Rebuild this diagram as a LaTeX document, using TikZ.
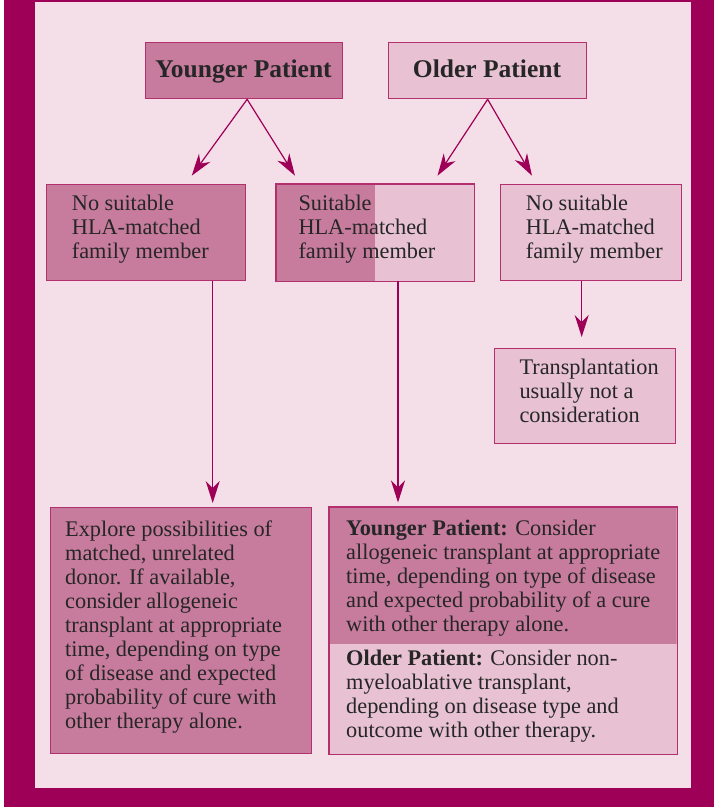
\documentclass[tikz,border=0pt]{standalone}
\usepackage{fontspec}
\setmainfont{Liberation Serif}
\usetikzlibrary{arrows.meta}
\definecolor{framec}{HTML}{9E0057}
\definecolor{bgc}{HTML}{F4DFE8}
\definecolor{dk}{HTML}{C77B9D}
\definecolor{lt}{HTML}{E8C2D2}
\definecolor{edgec}{HTML}{B3306F}
\definecolor{arrowc}{HTML}{9E0057}
\definecolor{ink}{HTML}{262626}
\begin{document}
\begin{tikzpicture}[x=1pt,y=-1pt,
  box/.style={draw=edgec, line width=1.3pt, rectangle, inner sep=0pt, anchor=north west},
  arr/.style={draw=arrowc, line width=1.2pt, -{Stealth[length=22pt,width=14pt,inset=7pt]}},
  body/.style={anchor=base west, inner sep=0pt, align=left, font=\fontsize{22.3}{24}\selectfont, text=ink},
  head/.style={anchor=base, inner sep=0pt, font=\fontsize{25.5}{28}\selectfont\bfseries, text=ink}]
\useasboundingbox (0,0) rectangle (714,807);
\fill[white] (0,0) rectangle (714,807);
\fill[framec] (4,0) rectangle (714,807);
\fill[bgc] (35,2) rectangle (691,788);
% top boxes
\node[box, fill=dk, minimum width=197pt, minimum height=56pt] (young) at (145,42) {};
\node[box, fill=lt, minimum width=198pt, minimum height=56pt] (older) at (388,42) {};
\node[head] (youngt) at (243.5,77.7) {Younger Patient};
\node[head] (oldert) at (487,77.7) {Older Patient};
% second row
\node[box, fill=dk, minimum width=199pt, minimum height=96pt] (b1) at (46,184) {};
\node[box, draw=none, fill=lt, minimum width=197pt, minimum height=96pt,
  path picture={\fill[dk] (path picture bounding box.north west) rectangle ([xshift=98pt]path picture bounding box.south west);}] (b2) at (276,184) {};
\draw[edgec, line width=1.3pt] (b2.north west) rectangle (b2.south east);
\node[box, fill=lt, minimum width=181pt, minimum height=96pt] (b3) at (499.5,184) {};
\node[body] (b1t) at (71.7,258.7) {No suitable\\HLA-matched\\family member};
\node[body] (b2t) at (298.3,258.7) {Suitable\\HLA-matched\\family member};
\node[body] (b3t) at (525.7,258.7) {No suitable\\HLA-matched\\family member};
% transplantation box
\node[box, fill=lt, minimum width=181pt, minimum height=95pt] (tr) at (494,348) {};
\node[body] (trt) at (519.3,422.3) {Transplantation\\usually not a\\consideration};
% bottom boxes
\node[box, fill=dk, minimum width=261pt, minimum height=246pt] (bl) at (49.5,507) {};
\node[body] (blt) at (65,728.7) {Explore possibilities of\\matched, unrelated\\donor. If available,\\consider allogeneic\\transplant at appropriate\\time, depending on type\\of disease and expected\\probability of cure with\\other therapy alone.};
\node[box, draw=none, fill=lt, minimum width=347pt, minimum height=246pt,
  path picture={\fill[dk] (path picture bounding box.north west) rectangle ([yshift=-136pt]path picture bounding box.north east);}] (br) at (329,507) {};
\draw[edgec, line width=1.3pt] (br.north west) rectangle (br.south east);
\node[body] (brt1) at (346,631) {\textbf{Younger Patient:} Consider\\allogeneic transplant at appropriate\\time, depending on type of disease\\and expected probability of a cure\\with other therapy alone.};
\node[body] (brt2) at (346,737) {\textbf{Older Patient:} Consider non-\\myeloablative transplant,\\depending on disease type and\\outcome with other therapy.};
% arrow tips
\coordinate (t1) at (191.7,175.7);
\coordinate (t2) at (295,175.7);
\coordinate (t3) at (437.5,175.7);
\coordinate (t4) at (532,175.7);
\coordinate (t5) at (581.7,337);
\coordinate (t6) at (212.7,503);
\coordinate (t7) at (398,502.5);
\draw[arr] ([xshift=3pt]young.south) -- (t1);
\draw[arr] ([xshift=3pt]young.south) -- (t2);
\draw[arr] (older.south) -- (t3);
\draw[arr] (older.south) -- (t4);
\draw[arr] (b3.south -| t5) -- (t5);
\draw[arr] (b1.south -| t6) -- (t6);
\draw[arr] (b2.south -| t7) -- (t7);
\end{tikzpicture}
\end{document}
